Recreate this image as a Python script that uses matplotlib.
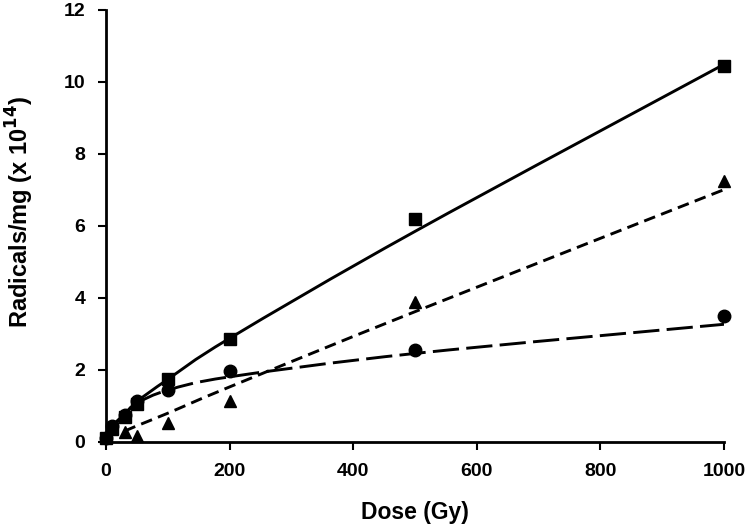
import matplotlib.pyplot as plt
import numpy as np
import matplotlib as mpl
from matplotlib.path import Path
from matplotlib.patches import PathPatch

mpl.rcParams['figure.dpi'] = 100
plt.rcParams['font.family'] = ['Liberation Sans', 'DejaVu Sans']
plt.rcParams['font.weight'] = 'bold'

# dose values (Gy)
dose = [0, 10, 30, 50, 100, 200, 500, 1000]
tri_dose = [30, 50, 100, 200, 500, 1000]

# radicals/mg (x 1e14) for each sample
squares = [0.1, 0.35, 0.7, 1.05, 1.75, 2.85, 6.2, 10.45]
circles = [0.1, 0.45, 0.75, 1.15, 1.45, 1.97, 2.55, 3.5]
triangles = [0.28, 0.17, 0.52, 1.15, 3.9, 7.25]

# trend curves
fit_dose = [10, 30, 50, 100, 200, 500, 1000]
sq_fit = [0.42, 0.75, 1.12, 1.74, 2.88, 5.85, 10.49]
ci_fit = [0.45, 0.78, 1.08, 1.44, 1.81, 2.46, 3.27]
tri_fit_dose = [30, 50, 100, 200, 500, 1000]
tri_fit = [0.3, 0.45, 0.8, 1.53, 3.62, 7.01]

x_ticks = [0, 200, 400, 600, 800, 1000]
y_ticks = [0, 2, 4, 6, 8, 10, 12]


def smooth_path(x, y):
    # excel-style smoothed line: cubic bezier through the points
    p = np.column_stack([x, y]).astype(float)
    verts = [p[0]]
    codes = [Path.MOVETO]
    n = len(p)
    for i in range(n - 1):
        p0 = p[i - 1] if i > 0 else p[i]
        p3 = p[i + 2] if i + 2 < n else p[i + 1]
        c1 = p[i] + (p[i + 1] - p0) / 6
        c2 = p[i + 1] - (p3 - p[i]) / 6
        verts += [c1, c2, p[i + 1]]
        codes += [Path.CURVE4] * 3
    return Path(verts, codes)


fig = plt.figure(figsize=(7.5, 5.29))
ax = fig.add_axes([106 / 750, 1 - 442 / 529, 618 / 750, 432 / 529])

curves = [
    (fit_dose, sq_fit, '-'),
    (fit_dose, ci_fit, (0, (9, 2.5))),
    (tri_fit_dose, tri_fit, (0, (4, 2.2))),
]
for xs, ys, ls in curves:
    ax.add_patch(PathPatch(smooth_path(xs, ys), fill=False, edgecolor='black',
                           lw=2.1, linestyle=ls, capstyle='butt'))

ax.plot(dose, squares, marker='s', linestyle='none', color='black',
        markersize=8, clip_on=False, zorder=5)
ax.plot(dose, circles, marker='o', linestyle='none', color='black',
        markersize=9, clip_on=False, zorder=5)
ax.plot(tri_dose, triangles, marker='^', linestyle='none', color='black',
        markersize=8.5, clip_on=False, zorder=5)

ax.set_xlim(0, 1000)
ax.set_ylim(0, 12)
ax.set_xticks(x_ticks)
ax.set_yticks(y_ticks)
ax.spines['top'].set_visible(False)
ax.spines['right'].set_visible(False)
for s in ['left', 'bottom']:
    ax.spines[s].set_linewidth(2)
ax.tick_params(direction='out', length=6, width=1.5, labelsize=14, pad=9)
for lab in ax.get_xticklabels() + ax.get_yticklabels():
    lab.set_fontweight('bold')

ax.set_xlabel('Dose (Gy)', fontsize=16.5, fontweight='bold', labelpad=15)
ax.set_ylabel('Radicals/mg (x 10$^{\\mathbf{14}}$)', fontsize=17,
              fontweight='bold')
ax.yaxis.set_label_coords(-0.113, 0.532)

fig.savefig('out.png', dpi=100)
